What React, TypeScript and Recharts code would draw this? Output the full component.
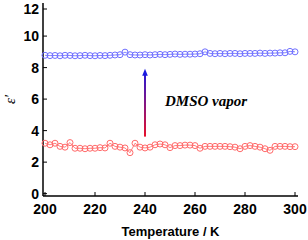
import {
  ComposedChart,
  Line,
  XAxis,
  YAxis,
  ReferenceLine,
  ReferenceDot,
} from 'recharts';

const temps = [
  200, 202, 204, 206, 208, 210, 212, 214, 216, 218, 220, 222, 224, 226, 228, 230, 232, 234, 236, 238,
  240, 242, 244, 246, 248, 250, 252, 254, 256, 258, 260, 262, 264, 266, 268, 270, 272, 274, 276, 278,
  280, 282, 284, 286, 288, 290, 292, 294, 296, 298, 300,
];

// after DMSO vapor (upper)
const vaporValues = [
  8.78, 8.76, 8.77, 8.75, 8.78, 8.77, 8.75, 8.76, 8.78, 8.76, 8.75, 8.77, 8.76, 8.78, 8.8, 8.82, 8.98, 8.82, 8.8, 8.8,
  8.82, 8.8, 8.82, 8.84, 8.82, 8.84, 8.86, 8.84, 8.85, 8.85, 8.86, 8.88, 9.0, 8.9, 8.88, 8.9, 8.88, 8.9, 8.9, 8.88,
  8.9, 8.9, 8.9, 8.92, 8.9, 8.92, 8.92, 8.94, 8.94, 9.03, 9.0,
];

// before (lower)
const baseValues = [
  3.2, 3.1, 3.2, 3.0, 2.95, 3.24, 2.88, 2.88, 2.85, 2.88, 2.88, 2.92, 2.9, 3.2, 3.0, 2.95, 2.9, 2.6, 3.2, 2.95,
  2.9, 2.95, 3.1, 3.15, 3.1, 2.92, 3.05, 3.05, 3.08, 3.08, 3.05, 2.88, 3.0, 3.0, 3.0, 3.0, 3.0, 2.98, 2.95, 2.85,
  3.0, 3.05, 3.0, 2.95, 2.85, 2.75, 3.0, 3.0, 3.0, 2.98, 2.98,
];

const xTicks = [200, 220, 240, 260, 280, 300];
const yTicks = [0, 2, 4, 6, 8, 10, 12];

// arrow from the lower set to the upper set, and the note beside it
const arrowStart = { T: 240, v: 3.62 };
const arrowEnd = { T: 240, v: 7.92 };
const note = { T: 248, v: 5.58, text: 'DMSO vapor' };

const data = temps.map((T, i) => ({ T, base: baseValues[i], vapor: vaporValues[i] }));

const sans = '"Liberation Sans", Arial, sans-serif';
const serif = '"Liberation Serif", "Times New Roman", serif';

function XTick({ x, y, payload }: any) {
  return (
    <g>
      <line x1={x} x2={x} y1={y} y2={y - 4} stroke="#000" strokeWidth={1} />
      <text x={x} y={y + 18} textAnchor="middle" fontFamily={sans} fontWeight="bold" fontSize={14} fill="#000">
        {payload.value}
      </text>
    </g>
  );
}

function YTick({ x, y, payload }: any) {
  return (
    <g>
      <line x1={x} x2={x + 4} y1={y} y2={y} stroke="#000" strokeWidth={1} />
      <text x={x - 4} y={y + 5} textAnchor="end" fontFamily={sans} fontWeight="bold" fontSize={14} fill="#000">
        {payload.value}
      </text>
    </g>
  );
}

function Arrow(props: any) {
  const { x1, y1, x2, y2 } = props;
  const top = Math.min(y1, y2);
  const bottom = Math.max(y1, y2);
  return (
    <g>
      <defs>
        <linearGradient id="arrowGrad" gradientUnits="userSpaceOnUse" x1={x1} y1={bottom} x2={x1} y2={top}>
          <stop offset="0%" stopColor="#e8102a" />
          <stop offset="100%" stopColor="#1a1ae0" />
        </linearGradient>
      </defs>
      <rect x={x1 - 1} y={top + 6} width={2} height={bottom - top - 6} fill="url(#arrowGrad)" />
      <polygon points={`${x2},${top} ${x2 - 2.8},${top + 7} ${x2 + 2.8},${top + 7}`} fill="#1a1ae0" />
    </g>
  );
}

function Note(props: any) {
  const { cx, cy } = props;
  return (
    <text x={cx} y={cy} fontFamily={serif} fontStyle="italic" fontWeight="bold" fontSize={15} fill="#000">
      {note.text}
    </text>
  );
}

export default function App() {
  return (
    <div style={{ position: 'absolute', left: 0, top: 0, background: '#fff' }}>
      <ComposedChart width={308} height={240} data={data} margin={{ top: 3, right: 10, bottom: 0, left: 0 }}>
        <XAxis
          dataKey="T"
          type="number"
          domain={[199.2, 301.2]}
          ticks={xTicks}
          tick={<XTick />}
          tickLine={false}
          tickSize={0}
          tickMargin={0}
          height={44}
          axisLine={{ stroke: '#000', strokeWidth: 1.5 }}
          label={{
            value: 'Temperature / K',
            position: 'insideBottom',
            offset: 4,
            style: { fontFamily: sans, fontWeight: 'bold', fontSize: 13, fill: '#000' },
          }}
        />
        <XAxis
          xAxisId="top"
          dataKey="T"
          type="number"
          domain={[199.2, 301.2]}
          orientation="top"
          height={0}
          tick={false}
          tickLine={false}
          axisLine={{ stroke: '#666', strokeWidth: 1.5 }}
        />
        <YAxis
          type="number"
          domain={[-0.15, 12.1]}
          ticks={yTicks}
          tick={<YTick />}
          tickLine={false}
          tickSize={0}
          tickMargin={0}
          width={43}
          axisLine={{ stroke: '#000', strokeWidth: 1.5 }}
          label={{
            value: 'ε′',
            angle: -90,
            position: 'insideLeft',
            offset: 10,
            style: { fontFamily: serif, fontStyle: 'italic', fontSize: 15, fill: '#000', textAnchor: 'middle' },
          }}
        />
        <YAxis
          yAxisId="right"
          orientation="right"
          width={0}
          domain={[-0.15, 12.1]}
          tick={false}
          tickLine={false}
          axisLine={{ stroke: '#666', strokeWidth: 2 }}
        />
        <Line
          dataKey="base"
          stroke="#ff6060"
          strokeWidth={0.8}
          dot={{ r: 3, fill: 'none', stroke: '#ff6a6a', strokeWidth: 1 }}
          isAnimationActive={false}
        />
        <Line
          dataKey="vapor"
          stroke="#6a6aff"
          strokeWidth={0.8}
          dot={{ r: 3, fill: 'none', stroke: '#7070ff', strokeWidth: 1 }}
          isAnimationActive={false}
        />
        <ReferenceLine
          segment={[
            { x: arrowStart.T, y: arrowStart.v },
            { x: arrowEnd.T, y: arrowEnd.v },
          ]}
          shape={<Arrow />}
        />
        <ReferenceDot x={note.T} y={note.v} r={0} shape={<Note />} />
      </ComposedChart>
    </div>
  );
}
